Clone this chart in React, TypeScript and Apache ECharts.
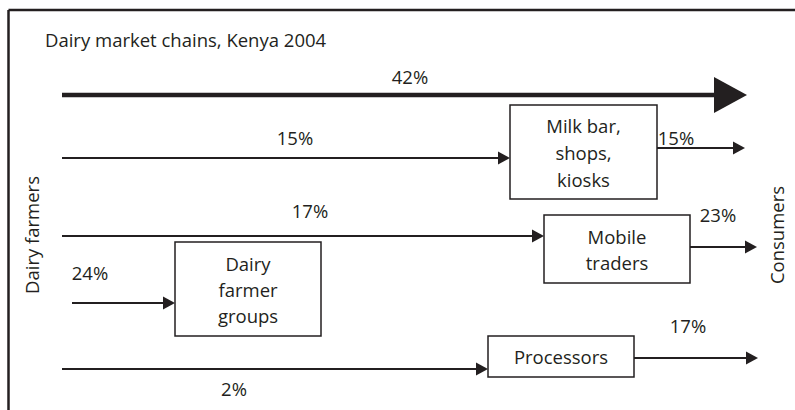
import React, { useEffect, useRef } from "react";
import * as echarts from "echarts";

// ---- content ----
const chartTitle = "Dairy market chains, Kenya 2004";
const sourceLabel = "Dairy farmers";
const sinkLabel = "Consumers";
const intermediaries = ["Milk bar,\nshops,\nkiosks", "Mobile\ntraders", "Dairy\nfarmer\ngroups", "Processors"];
// shares of milk flowing from farmers (direct 42%, to milk bars, mobile traders, groups, processors)
const inflowShares = [42, 15, 17, 24, 2];
// shares flowing out of intermediaries to consumers (milk bars, mobile traders, processors)
const outflowShares = [15, 23, 17];

// ---- layout (pixel space of the 795 x 410 canvas) ----
const W = 795;
const H = 410;
const FONT = "'Open Sans'";
const FS = 18.5;
const INK = "#231f20";

// boxes: [x0, y0, x1, y1, lineHeight]
const boxLayout = [
  [510, 105, 657, 199, 27],
  [544, 215, 690, 283, 26],
  [175, 242, 321, 336, 26],
  [488, 336, 634, 377, 26],
];
// inflow arrows: [x1, x2, y, lineWidth, headLen, headHalf]
const inflowArrows = [
  [62, 747, 95, 4.5, 33, 18],
  [62, 510, 158, 2, 12, 6.5],
  [62, 544, 236, 2, 12, 6.5],
  [72, 175, 303, 2, 12, 6.5],
  [62, 488, 369, 2, 12, 6.5],
];
// label positions for inflow shares: [x, y]
const inflowLabelPos = [
  [410, 76],
  [295, 137],
  [310, 210],
  [90, 272],
  [234, 388],
];
const outflowArrows = [
  [657, 745, 148, 2, 12, 6.5],
  [690, 757, 247, 2, 12, 6.5],
  [634, 758, 358, 2, 12, 6.5],
];
const outflowLabelPos = [
  [676, 137],
  [718, 214],
  [688, 325],
];

export default function App() {
  const ref = useRef<HTMLDivElement>(null);
  useEffect(() => {
    document.body.style.margin = "0";
    if (!ref.current) return;
    const chart = echarts.init(ref.current, null, { renderer: "svg" });

    const arrows = [...inflowArrows, ...outflowArrows];
    const labels = [
      ...inflowShares.map((v, i) => ({ t: v + "%", p: inflowLabelPos[i] })),
      ...outflowShares.map((v, i) => ({ t: v + "%", p: outflowLabelPos[i] })),
    ];

    const option: any = {
      animation: false,
      grid: { left: 0, top: 0, right: 0, bottom: 0 },
      xAxis: { type: "value", min: 0, max: W, show: false },
      yAxis: { type: "value", min: 0, max: H, inverse: true, show: false },
      graphic: [
        {
          type: "line",
          shape: { x1: 8.5, y1: 10, x2: W, y2: 10 },
          style: { stroke: INK, lineWidth: 2.5 },
        },
        {
          type: "line",
          shape: { x1: 8.5, y1: 10, x2: 8.5, y2: H },
          style: { stroke: INK, lineWidth: 2.5 },
        },
        {
          type: "text",
          x: 45,
          y: 39,
          style: { text: chartTitle, font: `${FS}px ${FONT}`, fill: INK, verticalAlign: "middle" },
        },
        {
          type: "text",
          x: 31,
          y: 235,
          rotation: Math.PI / 2,
          style: {
            text: sourceLabel,
            font: `${FS}px ${FONT}`,
            fill: INK,
            align: "center",
            verticalAlign: "middle",
          },
        },
        {
          type: "text",
          x: 776,
          y: 235,
          rotation: Math.PI / 2,
          style: {
            text: sinkLabel,
            font: `${FS}px ${FONT}`,
            fill: INK,
            align: "center",
            verticalAlign: "middle",
          },
        },
      ],
      series: [
        {
          type: "custom",
          coordinateSystem: "cartesian2d",
          data: arrows.map((a) => a),
          renderItem: (params: any, api: any) => {
            const a = arrows[params.dataIndex];
            const p1 = api.coord([a[0], a[2]]);
            const p2 = api.coord([a[1], a[2]]);
            const len = a[4];
            const half = a[5];
            return {
              type: "group",
              children: [
                {
                  type: "line",
                  shape: { x1: p1[0], y1: p1[1], x2: p2[0] - len + 1, y2: p2[1] },
                  style: { stroke: INK, lineWidth: a[3] },
                },
                {
                  type: "polygon",
                  shape: {
                    points: [
                      [p2[0], p2[1]],
                      [p2[0] - len, p2[1] - half],
                      [p2[0] - len, p2[1] + half],
                    ],
                  },
                  style: { fill: INK },
                },
              ],
            };
          },
        },
        {
          type: "custom",
          coordinateSystem: "cartesian2d",
          data: intermediaries.map((n) => n),
          renderItem: (params: any, api: any) => {
            const b = boxLayout[params.dataIndex];
            const tl = api.coord([b[0], b[1]]);
            const br = api.coord([b[2], b[3]]);
            return {
              type: "group",
              children: [
                {
                  type: "rect",
                  shape: { x: tl[0], y: tl[1], width: br[0] - tl[0], height: br[1] - tl[1] },
                  style: { fill: "#fff", stroke: INK, lineWidth: 1.5 },
                },
                {
                  type: "text",
                  x: (tl[0] + br[0]) / 2,
                  y: (tl[1] + br[1]) / 2,
                  style: {
                    text: intermediaries[params.dataIndex],
                    font: `${FS}px ${FONT}`,
                    lineHeight: b[4],
                    fill: INK,
                    align: "center",
                    verticalAlign: "middle",
                  },
                },
              ],
            };
          },
        },
        {
          type: "custom",
          coordinateSystem: "cartesian2d",
          data: labels.map((l) => l.t),
          renderItem: (params: any, api: any) => {
            const l = labels[params.dataIndex];
            const p = api.coord(l.p);
            return {
              type: "text",
              x: p[0],
              y: p[1],
              style: {
                text: l.t,
                font: `${FS}px ${FONT}`,
                fill: INK,
                align: "center",
                verticalAlign: "middle",
              },
            };
          },
        },
      ],
    };
    chart.setOption(option);
    return () => chart.dispose();
  }, []);
  return <div ref={ref} style={{ width: W, height: H }} />;
}
